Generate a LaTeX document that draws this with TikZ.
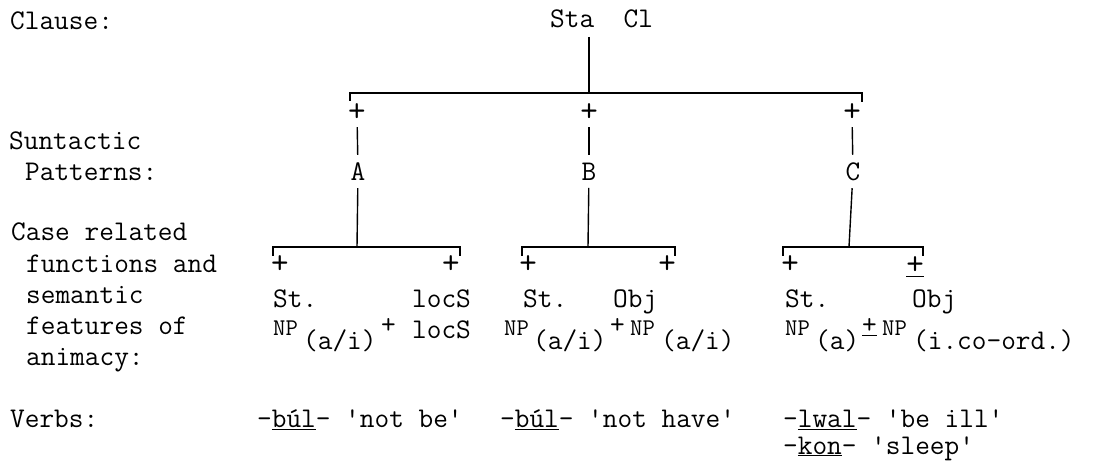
\documentclass[tikz,border=0pt]{standalone}
\usepackage{fontspec}
\newcommand\tw{\ttfamily\fontsize{28.5}{31}\selectfont\addfontfeatures{FakeBold=1.8}}
\newcommand\twsm{\ttfamily\fontsize{24}{26}\selectfont\addfontfeatures{FakeBold=1.8}}
\newcommand\twpl{\ttfamily\fontsize{34}{36}\selectfont}
\newcommand\q{\textquotesingle}
\begin{document}
\begin{tikzpicture}[x=1pt,y=-1pt,
  txt/.style={anchor=base west,inner sep=0pt,font=\tw},
  sm/.style={anchor=base west,inner sep=0pt,font=\twsm},
  pl/.style={inner sep=0pt,font=\twpl},
  bar/.style={line width=1.9pt},
  stem/.style={line width=1.4pt}]
\useasboundingbox (0,0) rectangle (1093,462);
% left labels
\node[txt] (lclause) at (10,30) {Clause:};
\node[txt] (lsyn1) at (9,150) {Suntactic};
\node[txt] (lsyn2) at (25,181) {Patterns:};
\node[txt] (lcase1) at (11,241) {Case related};
\node[txt] (lcase2) at (26,273) {functions and};
\node[txt] (lcase3) at (26,304) {semantic};
\node[txt] (lcase4) at (26,335) {features of};
\node[txt] (lcase5) at (26,366) {animacy:};
\node[txt] (lverbs) at (10,428) {Verbs:};
% root
\node[txt] (sta) at (550,28) {Sta\ \ Cl};
\coordinate (staL) at (589,37);
\coordinate (j0) at (589,93);
\coordinate (b0l) at (350,93);
\coordinate (b0r) at (862,93);
\draw[stem] (staL) -- (j0);
\draw[bar] (b0l) ++(0,8) -- (b0l) -- (b0r) -- ++(0,9);
% first-level plusses and patterns
\node[pl] (pA) at (357,113) {+};
\node[pl] (pB) at (589,113) {+};
\node[pl] (pC) at (852,113) {+};
\node[pl,font=\tw] (A) at (358,172) {A};
\node[pl,font=\tw] (B) at (589,172) {B};
\node[pl,font=\tw] (C) at (853,172) {C};
\draw[stem,shorten <=5pt,shorten >=8pt] (pA) -- (A);
\draw[stem,shorten <=5pt,shorten >=8pt] (pB) -- (B);
\draw[stem,shorten <=5pt,shorten >=8pt] (pC) -- (C);
% second-level bars
\coordinate (jA) at (357,247);
\coordinate (jB) at (588,247);
\coordinate (jC) at (849,247);
\draw[stem,shorten <=7pt] (A) -- (jA);
\draw[stem,shorten <=7pt] (B) -- (jB);
\draw[stem,shorten <=7pt] (C) -- (jC);
\coordinate (bAl) at (273,247); \coordinate (bAr) at (460,247);
\coordinate (bBl) at (522,247); \coordinate (bBr) at (675,247);
\coordinate (bCl) at (783,247); \coordinate (bCr) at (923,247);
\draw[bar] (bAl) ++(0,9) -- (bAl) -- (bAr) -- ++(0,9);
\draw[bar] (bBl) ++(0,9) -- (bBl) -- (bBr) -- ++(0,9);
\draw[bar] (bCl) ++(0,9) -- (bCl) -- (bCr) -- ++(0,9);
% second-level plusses
\node[pl] (pA1) at (280,265) {+};
\node[pl] (pA2) at (451,265) {+};
\node[pl] (pB1) at (528,265) {+};
\node[pl] (pB2) at (667,265) {+};
\node[pl] (pC1) at (790,265) {+};
\node[pl] (pC2) at (915,267) {\underline{+}};
% functions
\node[txt] (stA) at (273,308) {St.};
\node[txt] (locA) at (412,308) {locS};
\node[txt] (stB) at (523,308) {St.};
\node[txt] (objB) at (613,308) {Obj};
\node[txt] (stC) at (785,308) {St.};
\node[txt] (objC) at (912,308) {Obj};
% NP row
\node[sm] (npA) at (273,336) {NP};
\node[txt] (npAs) at (303,350) {(a/i)};
\node[txt] (npAp) at (381,334) {+};
\node[txt] (locA2) at (412,339) {locS};
\node[sm] (npB) at (504,336) {NP};
\node[txt] (npBs) at (533,350) {(a/i)};
\node[txt] (npBp) at (610,334) {+};
\node[sm] (npB2) at (630,336) {NP};
\node[txt] (npB2s) at (661,350) {(a/i)};
\node[sm] (npC) at (785,336) {NP};
\node[txt] (npCs) at (815,350) {(a)};
\node[txt] (npCp) at (862,334) {\underline{+}};
\node[sm] (npC2) at (882,336) {NP};
\node[txt] (npC2s) at (913,350) {(i.co-ord.)};
% verbs
\node[txt] (vA) at (257,428) {-\underline{b\'ul}- \q not be\q};
\node[txt] (vB) at (500,428) {-\underline{b\'ul}- \q not have\q};
\node[txt] (vC1) at (783,428) {-\underline{lwal}- \q be ill\q};
\node[txt] (vC2) at (783,454) {-\underline{kon}- \q sleep\q};
\end{tikzpicture}
\end{document}
